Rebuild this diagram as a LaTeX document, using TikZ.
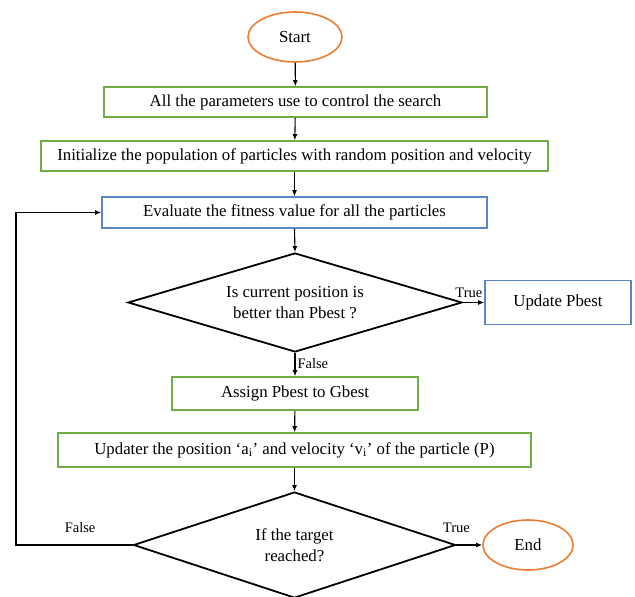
\documentclass[tikz,border=0pt]{standalone}
\usepackage{fontspec}
\setmainfont{Liberation Serif}
\usetikzlibrary{shapes.geometric,arrows.meta}
\definecolor{bgreen}{HTML}{70AD47}
\definecolor{bblue}{HTML}{5B86C5}
\definecolor{borange}{HTML}{ED7D31}
\tikzset{
  x=1pt,y=-1pt,
  greenbox/.style={draw=bgreen,line width=1.6pt,rectangle,inner sep=0pt,font=\fontsize{16.8}{18}\selectfont},
  bluebox/.style={draw=bblue,line width=1.6pt,rectangle,inner sep=0pt,font=\fontsize{16.8}{18}\selectfont},
  term/.style={draw=borange,line width=1.6pt,ellipse,inner sep=0pt,font=\fontsize{16.8}{18}\selectfont},
  decision/.style={draw=black,line width=1.8pt,diamond,inner sep=0pt,align=center,font=\fontsize{16.8}{21}\selectfont},
  arr/.style={-{Latex[length=6pt,width=5pt]},line width=1.1pt},
  lab/.style={font=\fontsize{14.5}{16}\selectfont,inner sep=2pt}
}
\begin{document}
\begin{tikzpicture}
\useasboundingbox (0,0) rectangle (635,597);
\node[term,minimum width=94pt,minimum height=50pt] (start) at (295,37) {Start};
\node[greenbox,minimum width=383pt,minimum height=30pt] (p1) at (295.5,102) {All the parameters use to control the search};
\node[greenbox,minimum width=507pt,minimum height=30pt] (p2) at (294.5,156) {Initialize the population of particles with random position and velocity};
\node[bluebox,minimum width=385pt,minimum height=31pt] (p3) at (294.5,212.5) {Evaluate the fitness value for all the particles};
\node[decision,aspect=3.37,minimum width=334pt,minimum height=99pt] (d1) at (295,302.5) {Is current position is\\better than Pbest ?};
\node[bluebox,minimum width=146pt,minimum height=44pt] (up) at (558,302.5) {Update Pbest};
\node[greenbox,minimum width=246pt,minimum height=33pt] (as) at (295,393.5) {Assign Pbest to Gbest};
\node[greenbox,minimum width=473pt,minimum height=34pt] (ud) at (294.5,450) {Updater the position ‘a\textsubscript{i}’ and velocity ‘v\textsubscript{i}’ of the particle (P)};
\node[decision,aspect=3.04,minimum width=322pt,minimum height=106pt] (d2) at (294.5,545) {If the target\\reached?};
\node[term,minimum width=90pt,minimum height=50pt] (end) at (528,545) {End};
\coordinate (lb) at (16,545);
\coordinate (lt) at (16,212.5);

\draw[arr] (start) -- (p1);
\draw[arr] (p1) -- (p2);
\draw[arr] (p2) -- (p3);
\draw[arr] (p3.south) -- (d1.north);
\draw[arr] (d1.east) -- node[lab,above,pos=0.28,yshift=2pt] {True} (up.west);
\draw[arr] (d1.south) -- node[lab,right,pos=0.45] {False} (as.north);
\draw[arr] (as) -- (ud);
\draw[arr] (ud.south) -- (d2.north);
\draw[arr] (d2.east) -- node[lab,above,pos=0.0,yshift=10pt] {True} (end.west);
\draw[arr] (d2.west) -- node[lab,above,pos=0.45,yshift=10pt] {False} (lb) -- (lt) -- (p3.west);
\end{tikzpicture}
\end{document}
